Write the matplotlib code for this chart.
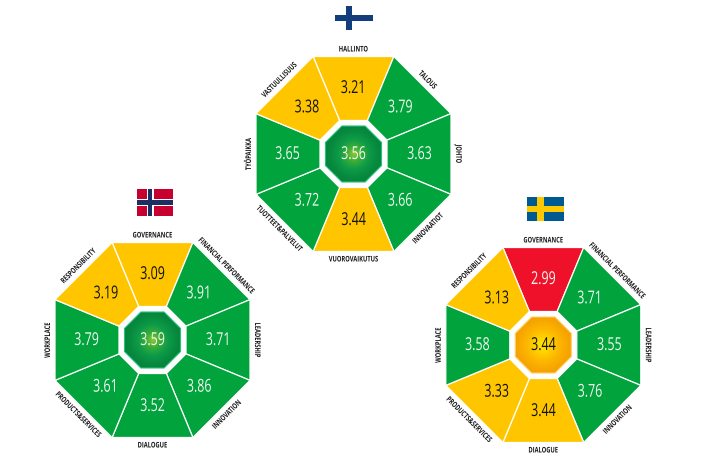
import numpy as np
import matplotlib
matplotlib.use("Agg")
import matplotlib.pyplot as plt
from matplotlib.patches import Polygon, Rectangle
from matplotlib.colors import LinearSegmentedColormap
from matplotlib.patheffects import AbstractPathEffect
from matplotlib.transforms import Affine2D

# clockwise from top
labels_fi = ["HALLINTO", "TALOUS", "JOHTO", "INNOVAATIOT", "VUOROVAIKUTUS",
             "TUOTTEET&PALVELUT", "TYÖPAIKKA", "VASTUULLISUUS"]
labels_en = ["GOVERNANCE", "FINANCIAL PERFORMANCE", "LEADERSHIP", "INNOVATION", "DIALOGUE",
             "PRODUCTS&SERVICES", "WORKPLACE", "RESPONSIBILITY"]
values_fi = [3.21, 3.79, 3.63, 3.66, 3.44, 3.72, 3.65, 3.38]
values_no = [3.09, 3.91, 3.71, 3.86, 3.52, 3.61, 3.79, 3.19]
values_se = [2.99, 3.71, 3.55, 3.76, 3.44, 3.33, 3.58, 3.13]
overall_fi = 3.56
overall_no = 3.59
overall_se = 3.44

GREEN, YELLOW, RED = "#00a33c", "#ffc600", "#ef1129"
FONT = "Open Sans"
R_OUT, R_HOLE, R_CORE = 97.5, 33.5, 28.0
ROT = [0, -45, -90, 45, 0, -45, 90, 45]


class Condense(AbstractPathEffect):
    """Draw the glyphs of a text narrower, about the middle of the string."""

    def __init__(self, sx):
        super().__init__()
        self.sx = sx

    def draw_path(self, renderer, gc, tpath, affine, rgbFace=None):
        e = tpath.get_extents()
        mid = (e.x0 + e.x1) / 2
        squeeze = Affine2D().translate(-mid, 0).scale(self.sx, 1).translate(mid, 0)
        renderer.draw_path(gc, tpath, squeeze + affine, rgbFace)


NUM_FX = [Condense(0.7)]
LAB_FX = [Condense(0.74)]


def colour(v):
    return RED if v < 3.0 else (YELLOW if v < 3.5 else GREEN)


def vertices(cx, cy, apothem):
    """Octagon corners clockwise, starting at the top-left corner (y axis points down)."""
    r = apothem / np.cos(np.pi / 8)
    a = np.radians(-90 - 22.5 + 45 * np.arange(8))
    return np.column_stack([cx + r * np.cos(a), cy + r * np.sin(a)])


def octagon(ax, cx, cy, values, overall, labels):
    outer = vertices(cx, cy, R_OUT)
    hole = vertices(cx, cy, R_HOLE)
    for i, v in enumerate(values):
        j = (i + 1) % 8
        ax.add_patch(Polygon([outer[i], outer[j], hole[j], hole[i]], closed=True,
                             fc=colour(v), ec="white", lw=0.9, zorder=2))
        a = np.radians(-90 + 45 * i)
        ax.text(cx + 66 * np.cos(a), cy + 66 * np.sin(a), f"{v:.2f}", ha="center", va="center",
                family=FONT, fontsize=12.8, color="#111111" if colour(v) == YELLOW else "#f2f8f2",
                zorder=5, path_effects=NUM_FX)
        ax.text(cx + 105 * np.cos(a), cy + 105 * np.sin(a), labels[i], ha="center", va="center",
                rotation=ROT[i], rotation_mode="anchor", family=FONT, fontweight="bold",
                fontsize=5.6, color="#1a1a1a", zorder=5, path_effects=LAB_FX)
    # centre jewel
    if colour(overall) == GREEN:
        stops = ["#8cc832", "#35ab3a", "#0c9a48", "#078a3e", "#067f3a"]
        rim = "#25c27a"
    else:
        stops = ["#ffe600", "#ffd200", "#fdb800", "#f8a800", "#f29c00"]
        rim = "#ffd060"
    cmap = LinearSegmentedColormap.from_list("jewel", stops)
    n = 120
    yy, xx = np.mgrid[-1:1:n * 1j, -1:1:n * 1j]
    img = ax.imshow(np.hypot(xx, yy), cmap=cmap, vmin=0, vmax=1.0, interpolation="bilinear",
                    extent=[cx - 32, cx + 32, cy + 32, cy - 32], zorder=3)
    core = Polygon(vertices(cx, cy, R_CORE), closed=True, fc="none", ec=rim, lw=0.8, zorder=4)
    ax.add_patch(core)
    img.set_clip_path(core)
    ax.text(cx, cy, f"{overall:.2f}", ha="center", va="center", family=FONT, fontsize=12.8,
            color="#f2f8f2" if colour(overall) == GREEN else "#111111", zorder=5, path_effects=NUM_FX)


def flag(ax, x0, y0, w, h, bg, cross, inner=None):
    ax.add_patch(Rectangle((x0, y0), w, h, fc=bg, ec="none", zorder=2))
    cx = x0 + 0.37 * w
    t = 0.27 * h
    ax.add_patch(Rectangle((x0, y0 + h / 2 - t / 2), w, t, fc=cross, ec="none", zorder=3))
    ax.add_patch(Rectangle((cx - t / 2, y0), t, h, fc=cross, ec="none", zorder=3))
    if inner:
        t2 = t * 0.55
        ax.add_patch(Rectangle((x0, y0 + h / 2 - t2 / 2), w, t2, fc=inner, ec="none", zorder=4))
        ax.add_patch(Rectangle((cx - t2 / 2, y0), t2, h, fc=inner, ec="none", zorder=4))


fig = plt.figure(figsize=(7.06, 4.68), dpi=100)
ax = fig.add_axes([0, 0, 1, 1])

octagon(ax, 353.5, 154, values_fi, overall_fi, labels_fi)
octagon(ax, 152.5, 340, values_no, overall_no, labels_en)
octagon(ax, 543.3, 345, values_se, overall_se, labels_en)

flag(ax, 335, 6, 38, 24, "white", "#123f7c")
flag(ax, 137, 189, 36, 27, "#c8002f", "white", "#1b2f63")
flag(ax, 527, 197, 37, 24, "#005a92", "#fdc800")

ax.set_xlim(0, 706)
ax.set_ylim(468, 0)
ax.set_aspect("auto")
ax.axis("off")
fig.savefig("out.png", dpi=100, facecolor="white")
